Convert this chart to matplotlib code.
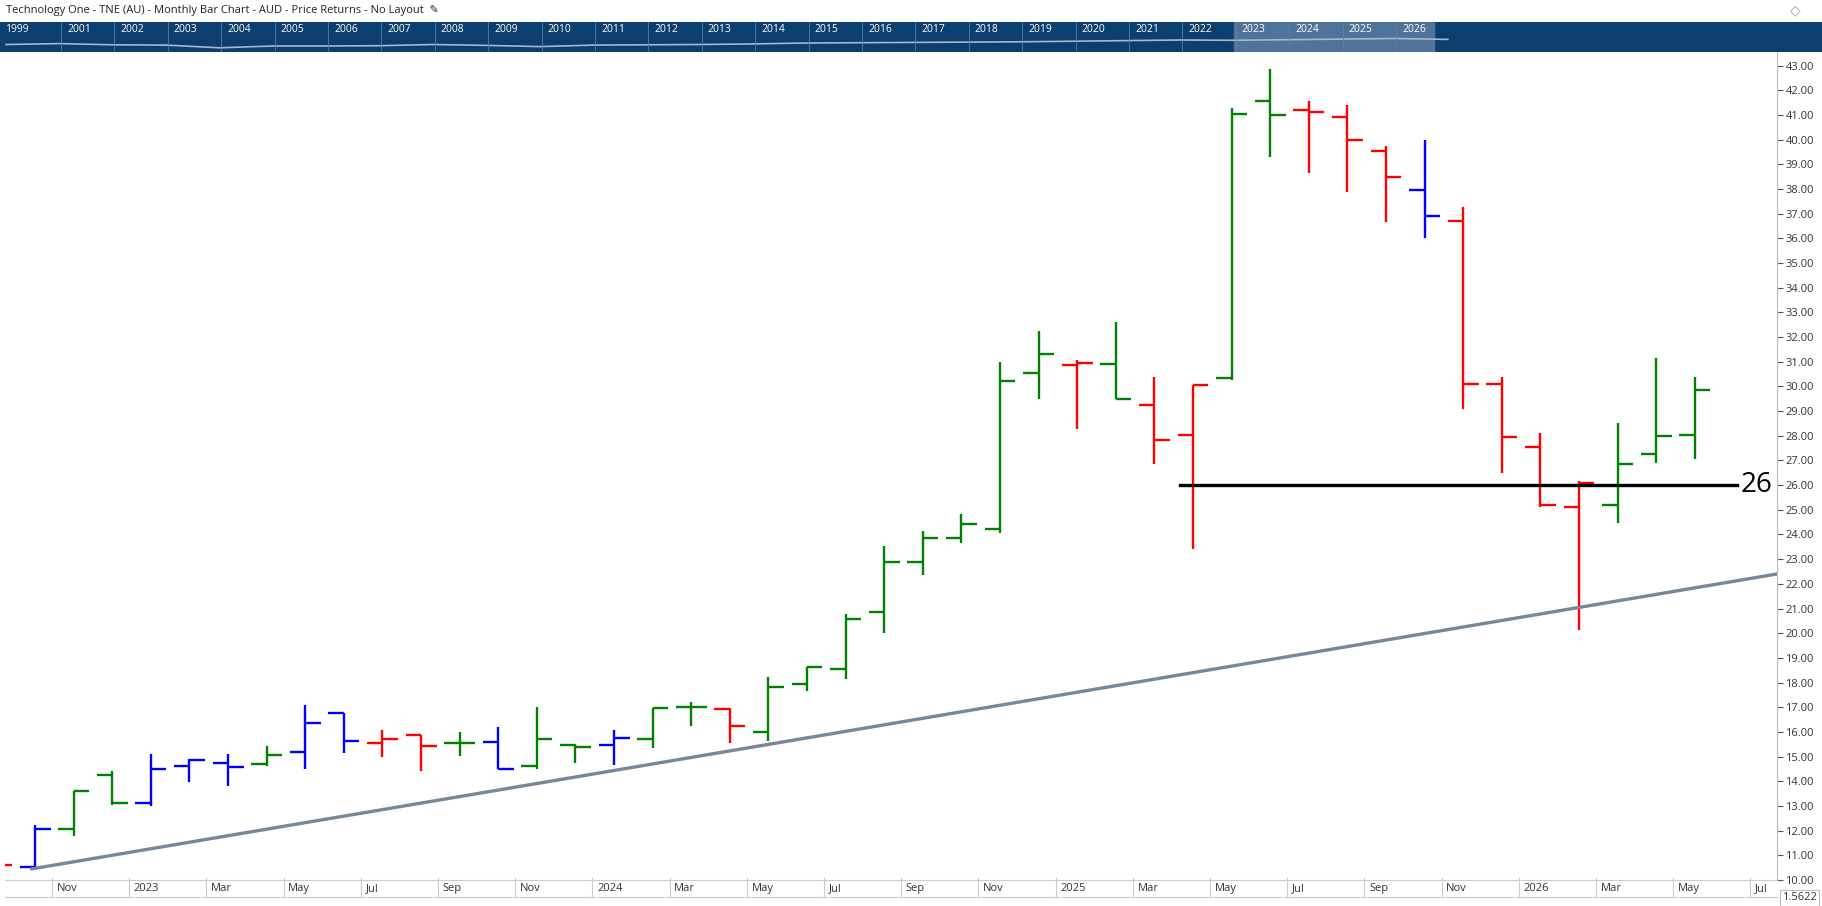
import matplotlib
matplotlib.use("Agg")
import matplotlib.pyplot as plt
from matplotlib.patches import Rectangle

plt.rcParams["font.family"] = ["Open Sans", "DejaVu Sans"]

# monthly OHLC, Sep 2022 .. May 2026
months = ["Sep22", "Oct22", "Nov22", "Dec22", "Jan23", "Feb23", "Mar23", "Apr23", "May23",
          "Jun23", "Jul23", "Aug23", "Sep23", "Oct23", "Nov23", "Dec23", "Jan24", "Feb24",
          "Mar24", "Apr24", "May24", "Jun24", "Jul24", "Aug24", "Sep24", "Oct24", "Nov24",
          "Dec24", "Jan25", "Feb25", "Mar25", "Apr25", "May25", "Jun25", "Jul25", "Aug25",
          "Sep25", "Oct25", "Nov25", "Dec25", "Jan26", "Feb26", "Mar26", "Apr26", "May26"]
opens = [10.9, 10.52, 12.05, 14.24, 13.14, 14.60, 14.73, 14.68, 15.18, 16.76, 15.54, 15.87,
         15.54, 15.58, 14.60, 15.49, 15.45, 15.71, 16.99, 16.92, 16.00, 17.93, 18.54, 20.84,
         22.89, 23.87, 24.23, 30.55, 30.87, 30.91, 29.23, 28.02, 30.33, 41.57, 41.18, 40.93,
         39.52, 37.95, 36.72, 30.10, 27.56, 25.10, 25.20, 27.25, 28.05]
highs = [11.0, 12.23, 13.60, 14.42, 15.10, 14.92, 15.10, 15.42, 17.10, 16.76, 16.08, 15.87,
         16.00, 16.21, 17.01, 15.53, 16.08, 16.95, 17.20, 16.97, 18.23, 18.63, 20.76, 23.52,
         24.13, 24.82, 30.97, 32.26, 31.07, 32.60, 30.39, 30.04, 41.30, 42.85, 41.56, 41.40,
         39.74, 39.98, 37.27, 30.40, 28.10, 26.15, 28.50, 31.15, 30.40]
lows = [10.5, 10.44, 11.80, 13.04, 13.01, 13.97, 13.80, 14.63, 14.49, 15.14, 14.98, 14.43,
        15.02, 14.50, 14.48, 14.75, 14.66, 15.36, 16.25, 15.56, 15.63, 17.65, 18.13, 20.02,
        22.34, 23.67, 24.06, 29.51, 28.27, 29.48, 26.86, 23.43, 30.26, 39.29, 38.63, 37.87,
        36.65, 36.01, 29.10, 26.50, 25.10, 20.15, 24.45, 26.90, 27.05]
closes = [10.61, 12.05, 13.60, 13.14, 14.48, 14.88, 14.56, 15.08, 16.38, 15.65, 15.73, 15.41,
          15.54, 14.50, 15.71, 15.37, 15.77, 16.95, 16.99, 16.26, 17.81, 18.63, 20.59, 22.89,
          23.87, 24.43, 30.22, 31.31, 30.95, 29.48, 27.82, 30.04, 41.05, 41.00, 41.10, 39.97,
          38.47, 36.90, 30.10, 27.96, 25.20, 26.10, 26.85, 28.00, 29.85]
colors = ["r", "b", "g", "g", "b", "b", "b", "g", "b", "b", "r", "r", "g", "b", "g", "g",
          "b", "g", "g", "r", "g", "g", "g", "g", "g", "g", "g", "g", "r", "g", "r", "r",
          "g", "g", "r", "r", "r", "b", "r", "r", "r", "r", "g", "g", "g"]
month_labels = ["Nov", "2023", "Mar", "May", "Jul", "Sep", "Nov", "2024", "Mar", "May", "Jul",
                "Sep", "Nov", "2025", "Mar", "May", "Jul", "Sep", "Nov", "2026", "Mar", "May", "Jul"]

# overview navigator (rough yearly level)
nav_years = [1999, 2000, 2001, 2002, 2003, 2004, 2005, 2006, 2007, 2008, 2009, 2010, 2011,
             2012, 2013, 2014, 2015, 2016, 2017, 2018, 2019, 2020, 2021, 2022, 2023, 2024,
             2025, 2026]
nav_values = [0.50, 0.56, 0.48, 0.46, 0.28, 0.40, 0.40, 0.42, 0.50, 0.44, 0.36, 0.46, 0.48,
              0.50, 0.54, 0.60, 0.62, 0.64, 0.66, 0.68, 0.72, 0.76, 0.80, 0.78, 0.82, 0.86,
              0.90, 0.84]

trend_x = [0.91, 46.13]
trend_y = [10.45, 22.4]
level = 26
level_span = [30.66, 45.1]

COLS = {"g": "#008000", "r": "#ff0000", "b": "#0000ff"}
W, H = 1822, 906

fig = plt.figure(figsize=(W / 100, H / 100), dpi=100)
fig.patch.set_facecolor("white")

ax = fig.add_axes([5 / W, (H - 880) / H, (1777 - 5) / W, (880 - 52) / H])
ax.set_xlim(0.22, 46.13)
ax.set_ylim(10.07, 43.55)

for i in range(len(months)):
    c = COLS[colors[i]]
    ax.plot([i, i], [lows[i], highs[i]], color=c, lw=1.7, solid_capstyle="butt")
    ax.plot([i - 0.4, i], [opens[i], opens[i]], color=c, lw=1.7, solid_capstyle="butt")
    ax.plot([i, i + 0.4], [closes[i], closes[i]], color=c, lw=1.7, solid_capstyle="butt")

ax.plot(trend_x, trend_y, color="#778899", lw=2.4, solid_capstyle="round")
ax.plot(level_span, [level, level], color="black", lw=2.4)
ax.text(level_span[1] + 0.1, level, str(level), fontsize=20, va="center", ha="left")

ax.yaxis.tick_right()
ax.set_yticks(range(10, 44))
ax.set_yticklabels([f"{v:.2f}" for v in range(10, 44)], fontsize=8, color="#333333")
ax.tick_params(axis="y", length=4, color="#555555", pad=2)

grid_pos = [1.44 + 2 * k for k in range(len(month_labels))]
ax.set_xticks([])
for p, lab in zip(grid_pos, month_labels):
    ax.text(p + 0.12, 10.07 - 0.2, lab, fontsize=8, color="#333333",
            ha="left", va="top", clip_on=False)
    ax.plot([p, p], [10.07, 10.07 - 0.75], color="#cccccc", lw=0.8, clip_on=False)
ax.plot([0.22, 46.13], [10.07 - 0.75, 10.07 - 0.75], color="#cccccc", lw=0.8, clip_on=False)

for s in ["top", "left"]:
    ax.spines[s].set_visible(False)
ax.spines["right"].set_color("#bbbbbb")
ax.spines["bottom"].set_color("#cccccc")

# navigator band
nav = fig.add_axes([0, (H - 52) / H, 1, 30 / H])
nav.set_xlim(0, W)
nav.set_ylim(0, 1)
nav.axis("off")
nav.add_patch(Rectangle((0, 0), W, 1, color="#0c3e6f"))
nav.add_patch(Rectangle((1234, 0), 200, 1, color="#4f7399"))
nav_px = [6 + (y - 1999) * 53.4 for y in nav_years]
nav.plot(nav_px, [v * 0.5 for v in nav_values], color="#a9b8c8", lw=1.2)
year_lbls = [1999] + list(range(2001, 2027))
for y in year_lbls:
    x = 2 if y == 1999 else 64 + (y - 2001) * 53.4
    if y != 1999:
        nav.plot([x - 3, x - 3], [0, 1], color="#5d7fa3", lw=0.6)
    nav.text(x + 3, 0.92, str(y), fontsize=7.5, color="white", va="top", ha="left")

fig.text(6 / W, 1 - 11 / H,
         "Technology One - TNE (AU) - Monthly Bar Chart - AUD - Price Returns - No Layout  \u270E",
         fontsize=8, color="#222222", va="center", ha="left")
fig.text(1790 / W, 1 - 11 / H, "\u25C7", fontsize=10, color="#999999", va="center")
fig.text(1782 / W, 8 / H, "1.5622", fontsize=8, color="#333333", va="center",
         bbox=dict(boxstyle="square,pad=0.2", fc="white", ec="#bbbbbb", lw=0.8))

fig.savefig("out.png", dpi=100)
